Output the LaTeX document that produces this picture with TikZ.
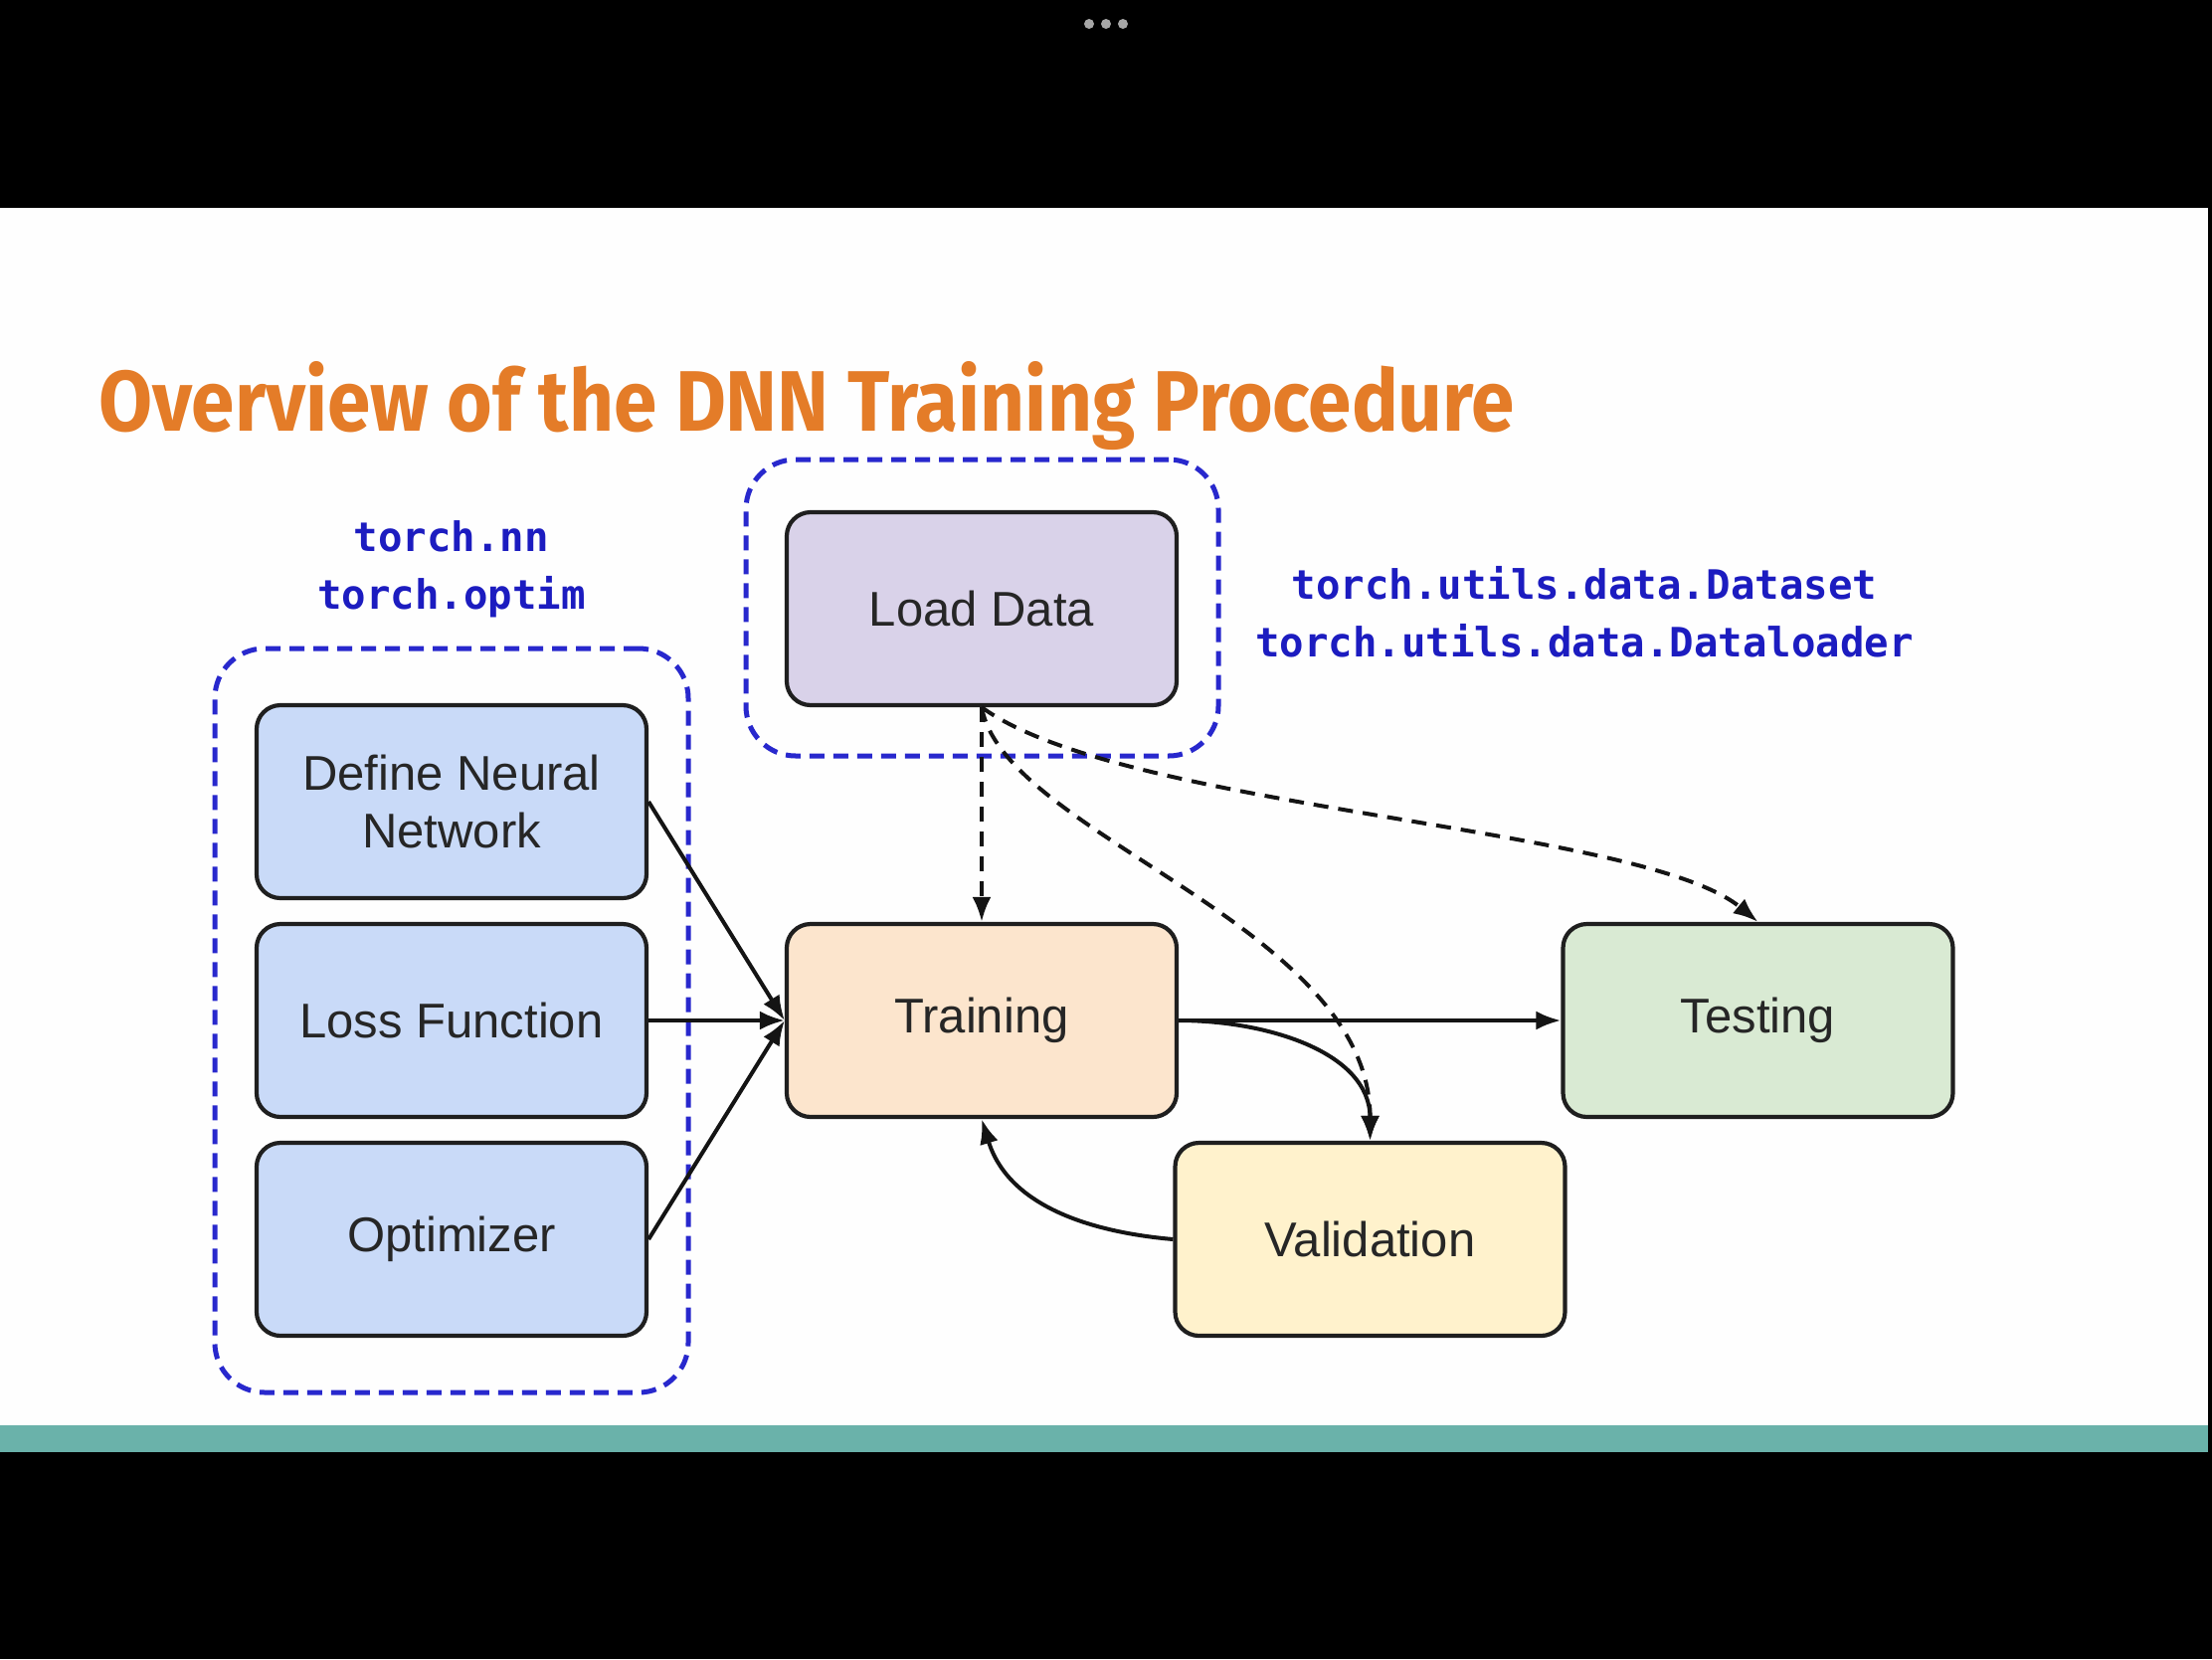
\documentclass[tikz,border=0pt]{standalone}
\usepackage{fontspec}
\usepackage{graphicx}
\setmainfont{Liberation Sans}
\newfontfamily\monofnt{DejaVu Sans Mono}
\newfontfamily\titlefnt{Fira Sans}
\usetikzlibrary{arrows.meta}
\definecolor{slidebg}{RGB}{254,254,254}
\definecolor{barteal}{RGB}{106,178,170}
\definecolor{titleorange}{RGB}{228,124,40}
\definecolor{codeblue}{RGB}{28,28,192}
\definecolor{grpblue}{RGB}{40,40,205}
\definecolor{cblue}{HTML}{C9DAF8}
\definecolor{cpurple}{HTML}{D9D2E9}
\definecolor{corange}{HTML}{FCE5CD}
\definecolor{cgreen}{HTML}{D9EAD3}
\definecolor{cyellow}{HTML}{FFF2CC}
\newcommand\boxfnt{\fontsize{49pt}{58pt}\selectfont}
\newcommand\codefnt{\monofnt\bfseries\fontsize{40.7pt}{58pt}\selectfont}
\tikzset{
  box/.style={draw=black!88, line width=4.2pt, rounded corners=24pt,
    minimum width=392pt, minimum height=194pt, inner sep=0pt,
    align=center, text=black!85, font=\boxfnt},
  grp/.style={draw=grpblue, line width=5pt, dash pattern=on 15pt off 9pt,
    rounded corners=50pt, inner sep=0pt, fill=none},
  code/.style={text=codeblue, font=\codefnt, align=center, inner sep=0pt},
  conn/.style={line width=4pt, draw=black!92, -{Latex[length=25pt,width=19pt]}},
  dconn/.style={conn, dash pattern=on 15pt off 10pt},
}
\begin{document}
\begin{tikzpicture}[x=1pt,y=1pt]
\useasboundingbox (0,0) rectangle (2224,-1668);
\fill[black] (0,0) rectangle (2224,-1668);
\fill[slidebg] (0,-209) rectangle (2220,-1433);
\fill[barteal] (0,-1433) rectangle (2220,-1460);
\foreach \dx in {1095,1112,1129} \fill[gray!70] (\dx,-24) circle (5);

\node[anchor=base west, inner sep=0pt, text=titleorange] (title) at (99,-433)
  {\resizebox{1423pt}{70pt}{\titlefnt\bfseries Overview of the DNN Training Procedure}};

\node[grp, minimum width=476pt, minimum height=748pt] (grpleft) at (454,-1026) {};
\node[grp, minimum width=475pt, minimum height=298pt] (grptop) at (987.5,-611) {};

\node[code] (codeleft) at (454,-572) {torch.nn\\torch.optim};
\node[code] (coderight) at (1593,-615) {torch.utils.data.Dataset\\torch.utils.data.Dataloader};

\node[box, fill=cpurple] (load) at (987,-612) {Load Data};
\node[box, fill=cblue] (dnn) at (454,-806) {Define Neural\\Network};
\node[box, fill=cblue] (loss) at (454,-1026) {Loss Function};
\node[box, fill=cblue] (opt) at (454,-1246) {Optimizer};
\node[box, fill=corange] (train) at (987,-1026) {Training};
\node[box, fill=cgreen] (test) at (1767.5,-1026) {Testing};
\node[box, fill=cyellow] (val) at (1377.5,-1246) {Validation};

\draw[conn] (dnn.east) -- (train.west);
\draw[conn] (loss.east) -- (train.west);
\draw[conn] (opt.east) -- (train.west);

\draw[dconn] (load.south) -- (train.north);
\draw[dconn] (load.south) .. controls (1010,-840) and (1378,-930) .. (val.north);
\draw[dconn] (load.south) .. controls (1130,-815) and (1650,-830) .. (test.north);

\draw[conn] (train.east) -- (test.west);
\draw[conn] (train.east) to[out=0,in=90] (val.north);
\draw[conn] (val.west) to[out=175,in=-73] (train.south);
\end{tikzpicture}
\end{document}
